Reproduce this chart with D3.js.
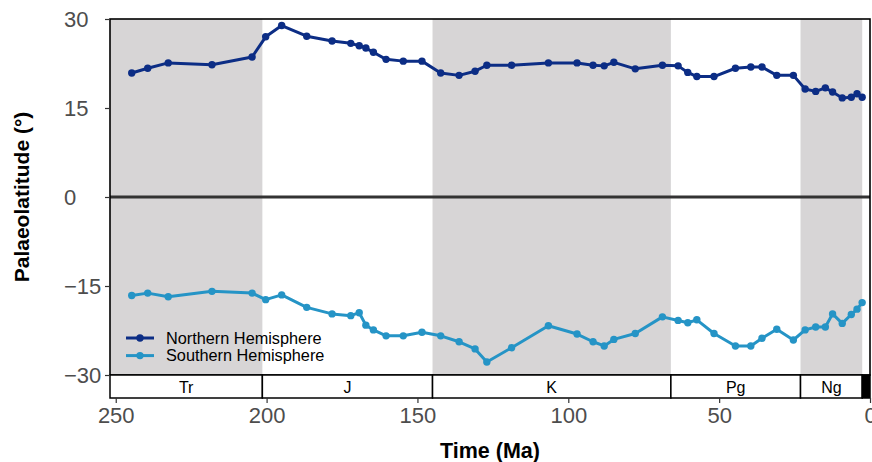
<!DOCTYPE html>
<html>
<head>
<meta charset="utf-8">
<script src="https://cdn.jsdelivr.net/npm/d3@7"></script>
<style>
  body { margin: 0; background: #fff; }
  text { font-family: "Liberation Sans", Arial, Helvetica, sans-serif; }
</style>
</head>
<body>
<div id="chart"></div>
<script>
// Set up SVG frame
var svgWidth = 872;
var svgHeight = 462;

var Margin = { top: 19, right: 2, bottom: 87, left: 110 };
var stripHeight = 23;

// Data: bin ages (Ma) and mean palaeolatitudes
var ages = [244.7, 239.4, 232.6, 218.1, 204.8, 200.3, 195.0, 186.7, 178.3, 172.1,
            169.3, 167.1, 164.6, 160.4, 154.7, 148.5, 142.3, 136.2, 130.9, 127.0,
            118.8, 106.6, 97.1, 91.8, 88.1, 84.9, 77.8, 68.8, 63.6, 60.4,
            57.4, 51.7, 44.6, 39.5, 35.8, 30.9, 25.4, 21.5, 18.0, 14.8,
            12.4, 9.2, 6.2, 4.3, 2.6];

var northLat = [20.9, 21.7, 22.6, 22.3, 23.6, 27.0, 28.9, 27.1, 26.3, 25.9,
                25.5, 25.1, 24.4, 23.2, 22.9, 22.9, 20.9, 20.5, 21.2, 22.2,
                22.2, 22.6, 22.6, 22.2, 22.1, 22.7, 21.6, 22.2, 22.1, 21.0,
                20.3, 20.3, 21.7, 21.9, 21.9, 20.5, 20.5, 18.2, 17.8, 18.4,
                17.7, 16.7, 16.8, 17.4, 16.8];

var southLat = [-16.6, -16.2, -16.8, -15.9, -16.2, -17.3, -16.5, -18.6, -19.7, -20.0,
                -19.5, -21.6, -22.4, -23.4, -23.4, -22.8, -23.4, -24.4, -25.6, -27.8,
                -25.4, -21.7, -23.1, -24.4, -25.1, -24.0, -23.0, -20.2, -20.8, -21.2,
                -20.7, -23.0, -25.1, -25.1, -23.8, -22.3, -24.1, -22.4, -21.9, -21.9,
                -19.7, -21.3, -19.8, -18.9, -17.8];

var seriesNames = ["Northern Hemisphere", "Southern Hemisphere"];
var seriesColors = ["#0c2d85", "#2594c6"];

// Geological periods
var periodNames = ["Tr", "J", "K", "Pg", "Ng", "Q"];
var periodStart = [251.902, 201.4, 145.0, 66.0, 23.03, 2.58];
var periodEnd   = [201.4, 145.0, 66.0, 23.03, 2.58, 0];
var periodShade = [true, false, true, false, true, false];

var xTicks = [250, 200, 150, 100, 50, 0];
var yTicks = [-30, -15, 0, 15, 30];

var svg = d3.select("#chart")
  .append("svg")
  .attr("width", svgWidth)
  .attr("height", svgHeight);

var x = d3.scaleLinear()
  .domain([251.902, 0])
  .range([Margin.left, svgWidth - Margin.right]);

var y = d3.scaleLinear()
  .domain([-30, 30])
  .range([375, Margin.top]);

var periods = periodNames.map(function(n, i) {
  return { name: n, start: periodStart[i], end: periodEnd[i], shade: periodShade[i] };
});

// shaded period bands
svg.append("g").selectAll("rect")
  .data(periods.filter(d => d.shade))
  .enter()
  .append("rect")
  .attr("x", d => x(d.start))
  .attr("width", d => x(d.end) - x(d.start))
  .attr("y", y(30))
  .attr("height", y(-30) - y(30))
  .attr("fill", "#d7d5d6");

// zero line
svg.append("line")
  .attr("x1", x(251.902)).attr("x2", x(0))
  .attr("y1", y(0)).attr("y2", y(0))
  .attr("stroke", "#333333")
  .attr("stroke-width", 3.2);

// series
var series = [northLat, southLat].map(function(vals, i) {
  return { name: seriesNames[i], color: seriesColors[i],
           pts: ages.map((a, j) => ({ age: a, lat: vals[j] })) };
});

var line = d3.line()
  .x(d => x(d.age))
  .y(d => y(d.lat));

series.forEach(function(s) {
  svg.append("path")
    .datum(s.pts)
    .attr("d", line)
    .attr("fill", "none")
    .attr("stroke", s.color)
    .attr("stroke-width", 3)
    .attr("stroke-linejoin", "round");

  svg.append("g").selectAll("circle")
    .data(s.pts)
    .enter()
    .append("circle")
    .attr("cx", d => x(d.age))
    .attr("cy", d => y(d.lat))
    .attr("r", 3.7)
    .attr("fill", s.color);
});

// panel border
svg.append("rect")
  .attr("x", x(251.902))
  .attr("y", y(30))
  .attr("width", x(0) - x(251.902))
  .attr("height", y(-30) - y(30))
  .attr("fill", "none")
  .attr("stroke", "#000")
  .attr("stroke-width", 1.6);

// timescale strip
var stripTop = y(-30);
var strip = svg.append("g");
strip.selectAll("rect")
  .data(periods)
  .enter()
  .append("rect")
  .attr("x", d => x(d.start))
  .attr("width", d => x(d.end) - x(d.start))
  .attr("y", stripTop)
  .attr("height", stripHeight)
  .attr("fill", d => d.name === "Q" ? "#000" : "#fff")
  .attr("stroke", "#000")
  .attr("stroke-width", 1.5);

strip.selectAll("text")
  .data(periods.filter(d => d.name !== "Q"))
  .enter()
  .append("text")
  .attr("x", d => (x(d.start) + x(d.end)) / 2)
  .attr("y", stripTop + stripHeight / 2 + 6)
  .attr("text-anchor", "middle")
  .attr("font-size", "16px")
  .attr("fill", "#000")
  .text(d => d.name);

// axes
var minus = v => String(v).replace("-", "\u2212");

var xAxis = svg.append("g")
  .attr("transform", `translate(0, ${stripTop + stripHeight})`)
  .call(d3.axisBottom(x).tickValues(xTicks).tickSize(5).tickPadding(4).tickFormat(minus));
xAxis.select(".domain").remove();

var yAxis = svg.append("g")
  .attr("transform", `translate(${Margin.left}, 0)`)
  .call(d3.axisLeft(y).tickValues(yTicks).tickSize(5).tickPadding(4).tickFormat(minus));
yAxis.select(".domain").remove();

[xAxis, yAxis].forEach(function(a) {
  a.selectAll(".tick line").attr("stroke", "#333333").attr("stroke-width", 1.2);
  a.selectAll(".tick text")
    .attr("fill", "#4d4d4d")
    .attr("font-size", "22px")
    .style("font-family", "'Liberation Sans', Arial, sans-serif");
});

// y labels sit left-aligned in their column
yAxis.selectAll(".tick text")
  .attr("text-anchor", "start")
  .attr("x", 64 - Margin.left);

// axis titles
svg.append("text")
  .attr("x", (x(251.902) + x(0)) / 2)
  .attr("y", 458)
  .attr("text-anchor", "middle")
  .attr("font-size", "21.5px")
  .attr("font-weight", "bold")
  .text("Time (Ma)");

svg.append("text")
  .attr("transform", `translate(29, ${y(0)}) rotate(-90)`)
  .attr("text-anchor", "middle")
  .attr("font-size", "21px")
  .attr("font-weight", "bold")
  .text("Palaeolatitude (°)");

// legend
var legend = svg.append("g")
  .attr("transform", "translate(126, 338)");

series.forEach(function(s, i) {
  var g = legend.append("g").attr("transform", `translate(0, ${i * 17.6})`);
  g.append("line")
    .attr("x1", 0).attr("x2", 28)
    .attr("stroke", s.color)
    .attr("stroke-width", 3);
  g.append("circle")
    .attr("cx", 14).attr("r", 3.7)
    .attr("fill", s.color);
  g.append("text")
    .attr("x", 40)
    .attr("y", 5.5)
    .attr("font-size", "16.3px")
    .attr("fill", "#000")
    .text(s.name);
});
</script>
</body>
</html>
